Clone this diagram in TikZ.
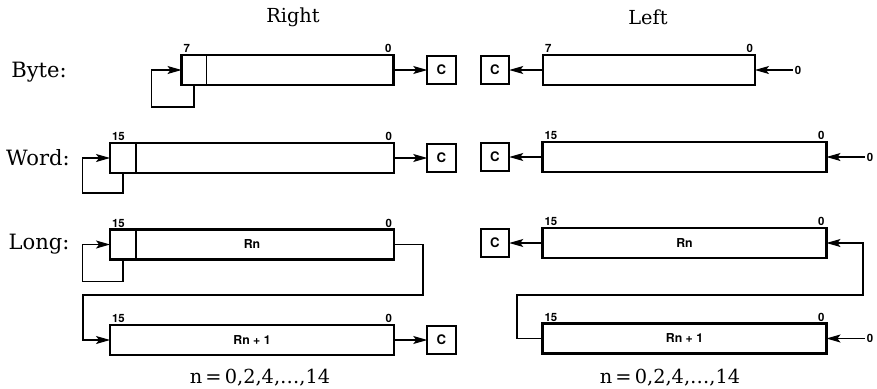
\documentclass[tikz,border=0pt]{standalone}
\usepackage{fontspec}
\setmainfont{DejaVu Serif}
\newfontfamily\heros{TeX Gyre Heros}
\usepackage{tikz}
\usetikzlibrary{arrows.meta}
\usetikzlibrary{backgrounds,positioning,calc}
\pgfdeclarelayer{edgelayer}
\pgfdeclarelayer{nodelayer}
\pgfsetlayers{background,edgelayer,nodelayer,main}
\tikzstyle{title}=[inner sep=0pt,font=\fontsize{11}{13}\selectfont]
\tikzstyle{side}=[title,font=\fontsize{12}{14}\selectfont]
\tikzstyle{reg}=[draw=black,line width=1.3pt,rectangle,minimum height=0.6cm,inner sep=0pt,outer sep=0pt,font=\heros\bfseries\fontsize{7}{8}\selectfont]
\tikzstyle{byte reg}=[reg,minimum width=4.24cm]
\tikzstyle{word reg}=[reg,minimum width=5.68cm]
\tikzstyle{cbox}=[draw=black,line width=1.3pt,rectangle,minimum width=0.57cm,minimum height=0.57cm,inner sep=0pt,outer sep=0pt,font=\heros\bfseries\fontsize{7.5}{8}\selectfont]
\tikzstyle{bit}=[inner sep=1pt,font=\heros\bfseries\fontsize{6.5}{7}\selectfont]
\tikzstyle{divider}=[line width=0.6pt]
\tikzstyle{shiftarr}=[line width=0.6pt,-{Stealth[length=2.8mm,width=1.6mm,inset=0.6mm]}]
\begin{document}
\begin{tikzpicture}[x=0.02cm,y=-0.02cm]
	\useasboundingbox (0,0) rectangle (877,389);
	\begin{pgfonlayer}{nodelayer}
		\node [style=title] (right) at (293,17) {Right};
		\node [style=title] (left) at (648,17) {Left};
		\node [style=side] (byte) at (39,72) {Byte:};
		\node [style=side] (word) at (38,158) {Word:};
		\node [style=side] (long) at (39,244) {Long:};
		\node [style=byte reg] (rb) at (287.5,70) {};
		\node [style=word reg] (rw) at (252,158) {};
		\node [style=word reg] (rl1) at (252,244.5) {Rn};
		\node [style=word reg] (rl2) at (252,340) {Rn + 1};
		\node [style=cbox] (rbc) at (441.5,70) {C};
		\node [style=cbox] (rwc) at (441.5,158) {C};
		\node [style=cbox] (rlc) at (441.5,340) {C};
		\node [style=byte reg] (lb) at (649,70) {};
		\node [style=word reg] (lw) at (684.5,157) {};
		\node [style=word reg] (ll1) at (684.5,243) {Rn};
		\node [style=word reg] (ll2) at (684.5,338.5) {Rn + 1};
		\node [style=cbox] (lbc) at (495,70) {C};
		\node [style=cbox] (lwc) at (495,157) {C};
		\node [style=cbox] (llc) at (495,243) {C};
		\node [style=bit,anchor=south west] (rb7) at (rb.north west) {7};
		\node [style=bit,anchor=south east] (rb0) at (rb.north east) {0};
		\node [style=bit,anchor=south west] (rw15) at (rw.north west) {15};
		\node [style=bit,anchor=south east] (rw0) at (rw.north east) {0};
		\node [style=bit,anchor=south west] (rl115) at (rl1.north west) {15};
		\node [style=bit,anchor=south east] (rl10) at (rl1.north east) {0};
		\node [style=bit,anchor=south west] (rl215) at (rl2.north west) {15};
		\node [style=bit,anchor=south east] (rl20) at (rl2.north east) {0};
		\node [style=bit,anchor=south west] (lb7) at (lb.north west) {7};
		\node [style=bit,anchor=south east] (lb0) at (lb.north east) {0};
		\node [style=bit,anchor=south west] (lw15) at (lw.north west) {15};
		\node [style=bit,anchor=south east] (lw0) at (lw.north east) {0};
		\node [style=bit,anchor=south west] (ll115) at (ll1.north west) {15};
		\node [style=bit,anchor=south east] (ll10) at (ll1.north east) {0};
		\node [style=bit,anchor=south west] (ll215) at (ll2.north west) {15};
		\node [style=bit,anchor=south east] (ll20) at (ll2.north east) {0};
		\node [style=bit] (lbz) at (798,70) {0};
		\node [style=bit] (lwz) at (870,157) {0};
		\node [style=bit] (llz) at (870,338.5) {0};
		\node [style=title] (rn) at (260,378) {n\,=\,0,2,4,\ldots,14};
		\node [style=title] (ln) at (670,378) {n\,=\,0,2,4,\ldots,14};
	\end{pgfonlayer}
	\begin{pgfonlayer}{edgelayer}
		\coordinate (rfa) at (423,295);
		\coordinate (rfb) at (83,295);
		\coordinate (lfa) at (517,295);
		\coordinate (lfb) at (863,295);
		\draw [style=divider] ([xshift=0.5cm]rb.north west) to ([xshift=0.5cm]rb.south west);
		\draw [style=divider] ([xshift=0.52cm]rw.north west) to ([xshift=0.52cm]rw.south west);
		\draw [style=divider] ([xshift=0.52cm]rl1.north west) to ([xshift=0.52cm]rl1.south west);
		\draw [style=shiftarr] ([xshift=0.25cm]rb.south west) -- ++(0,-0.44cm) -| ([xshift=-0.6cm]rb.west) -- (rb.west);
		\draw [style=shiftarr] ([xshift=0.26cm]rw.south west) -- ++(0,-0.4cm) -| ([xshift=-0.56cm]rw.west) -- (rw.west);
		\draw [style=shiftarr] ([xshift=0.26cm]rl1.south west) -- ++(0,-0.44cm) -| ([xshift=-0.56cm]rl1.west) -- (rl1.west);
		\draw [style=shiftarr] (rb.east) to (rbc.west);
		\draw [style=shiftarr] (rw.east) to (rwc.west);
		\draw [style=shiftarr] (rl2.east) to (rlc.west);
		\draw [style=shiftarr] (rl1.east) -| (rfa) -- (rfb) |- (rl2.west);
		\draw [style=shiftarr] (lb.west) to (lbc.east);
		\draw [style=shiftarr] (lw.west) to (lwc.east);
		\draw [style=shiftarr] (ll1.west) to (llc.east);
		\draw [style=shiftarr] (ll2.west) -| (lfa) -- (lfb) |- (ll1.east);
		\draw [style=shiftarr] (lbz) to (lb.east);
		\draw [style=shiftarr] (lwz) to (lw.east);
		\draw [style=shiftarr] (llz) to (ll2.east);
	\end{pgfonlayer}
\end{tikzpicture}
\end{document}
